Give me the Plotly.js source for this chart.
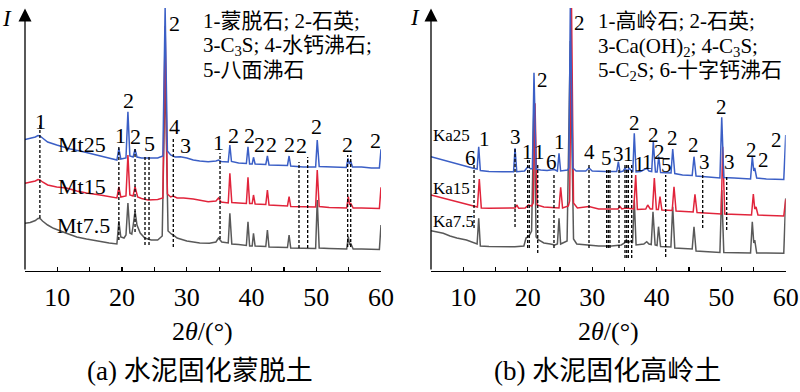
<!DOCTYPE html>
<html><head><meta charset="utf-8">
<script src="https://cdn.plot.ly/plotly-3.0.1.min.js"></script>
<style>html,body{margin:0;padding:0;background:#fff}#chart{width:800px;height:392px}</style>
</head><body><div id="chart"></div>
<script>
// ---------- Panel (a): cement-stabilised montmorillonite ----------
const mt25X = [5,5.8,6.6,7.0,7.3,7.7,8.5,9.9,12,14,16,18,19.2,19.5,19.8,20.6,20.9,21.2,21.7,22.0,22.3,23,24,25.5,26.3,26.65,27.0,27.5,28.2,29.0,30,31,32,33.3,34.5,34.9,35.3,36.4,36.65,36.9,38,39.2,39.45,39.7,40.1,40.3,40.55,42.2,42.45,42.7,45.55,45.8,46.05,48,49.9,50.15,50.45,52,54.65,54.9,55.1,55.3,55.6,57,58.5,59.75,60];
const mt25Y = [131.5,132.5,134,135.5,135,133,129,126,122,119.3,116,113,111,122.7,112,113,159.3,115,114,121.7,114,113,113,113,115,263,120,116,114,114.3,113,111,110,109.3,110,111,109.5,109,126,109.5,108,107.5,124.3,107,107,113.7,107,106.5,115,106,105.5,115,105,104,104,131,104.5,104,103.5,112.7,107,110,104,104,103,103,121.7];

const mt15X = [5,5.8,6.6,7.0,7.3,7.7,8.5,9.9,11.4,13,14.5,16.6,18,19.2,19.5,19.8,20.6,20.9,21.2,21.7,22.0,22.4,23,24,25.5,26.3,26.65,27.0,27.5,27.9,28.5,29.5,31,32,33.3,34.5,34.9,35.3,36.4,36.65,36.95,38,39.2,39.45,39.7,40.1,40.3,40.55,42.2,42.45,42.7,45.55,45.8,46.05,48,49.9,50.15,50.45,52,54.7,54.95,55.15,55.3,55.7,57,58.5,59.75,60];
const mt15Y = [87.7,88.5,90,91.5,91,89,86,84,83,80,78,76,74.5,73,84,74,75,116,76,75,84.3,74,72.5,71,71.5,73,245,77,74,75,73,73,72,71,69.3,70,73,69,68,97.7,68.5,68,67.5,93.7,67.5,67.5,76,67,66.5,81,66,65,74.3,64.5,64,64,101,64.5,63.5,63,74.3,66,68,63,63,62.5,62.5,83.7];

const mt75X = [5,5.8,6.6,7.0,7.3,7.7,8.5,9.4,11.4,13,14.5,16.6,18,19.2,19.5,19.8,20.3,20.6,20.9,21.2,21.5,21.7,22.0,22.3,22.8,23.5,24.5,25.5,26.2,26.65,27.1,27.6,27.9,28.5,30,32,33.5,34.5,34.9,35.4,36.4,36.65,36.95,38,39.2,39.45,39.7,40.1,40.3,40.55,42.2,42.45,42.7,45.55,45.8,46.05,48,49.9,50.15,50.45,52,54.7,54.95,55.15,55.3,55.7,57,58.5,59.75,60];
const mt75Y = [47.7,48.5,50.5,52.5,52.7,50,46,42.7,37.7,34,32,29.3,28,27,50,34,33,36,68,38,37,45,60,46,38,33,31,31,35,200,40,37,36,33,30,28,27.7,29,33,29,28,57.7,27,26.5,25.5,49.3,25,25,37.7,25,24.5,41,24,23.5,36,23,22.5,22.5,71,23,22.5,22,34.3,26,28,22,22,21.5,21.5,46];

const mtDashX   = [7.3,19.5,22.0,23.54,24.16,27.91,35.13,47.33,48.67,54.85,55.32];
const mtDashTop = [146,126,124,114,114,133,118,109,114,116,116];
const mtDashBot = [53,31,39,26,26,24,32,23,23,24,24];

const mtLabX = [7.32,20.96,19.78,22.1,24.16,28.02,28.02,29.83,34.97,37.18,39.76,41.2,43.11,45.94,47.64,50.06,54.85,59.22];
const mtLabY = [149.3,171,136,135,128,248,145,126,128.3,136,136,127,127,127,125.3,144.3,127,130.3];
const mtLabT = ['1','2','1','2','5','2','4','3','1','2','2','2','2','2','2','2','2','2'];

const mtSamples = ['Mt25','Mt15','Mt7.5'];
const mtSampleX = [13.76,13.76,14.0];
const mtSampleY = [127,85,46];

const mtLegend = ['1-蒙脱石; 2-石英;','3-C<sub>3</sub>S; 4-水钙沸石;','5-八面沸石'];

// ---------- Panel (b): cement-stabilised kaolinite ----------
const ka25X = [5,6.5,7.95,9,10.54,11.56,12.15,12.4,12.65,14,16,17.8,18.03,18.3,19.5,20.0,20.5,20.72,20.97,21.3,22,23,24.1,24.6,24.85,25.1,26.2,26.38,26.6,27.0,27.5,29.0,29.5,30,32,33.8,34.05,34.3,34.8,35.1,35.4,35.7,36.1,36.3,36.52,36.8,37.5,38.0,38.45,38.8,39.22,39.47,39.8,40.06,40.31,40.6,42.0,42.22,42.48,42.8,44,45.5,45.78,46.1,48,49.8,50.08,50.4,52,54.55,54.82,55.05,55.2,55.5,57,59.7,60];
const ka25Y = [114.3,111.5,109.3,107,104.3,102.7,102,124.3,100.5,99.5,99.3,99.3,122.7,99.3,100,104.3,102,102.5,198.3,102,101,100.5,101.5,100,117.7,100,101,103,263,103,100,100,103,100,99.5,99.5,109.3,99,100,103,99.5,103,100,99.5,137.7,99,99.5,101,102.7,100,99.5,129.3,99,99,114.3,98.5,98,98,122,97.5,96,95.5,114.3,95,94,93,153.7,93.5,93,92,114.3,100,103,93,92,91.5,136];

const ka15X = [5,6.5,7.95,9,10.5,11.56,12.2,12.49,12.8,14,16,18.05,18.29,18.6,19.6,20.1,20.6,20.85,21.13,21.45,22.5,24,24.85,25.11,25.4,26.3,26.5,26.79,27.1,27.7,29.5,31,34.0,34.3,34.6,35.2,35.6,36.45,36.74,37.0,38.3,38.6,39.0,39.35,39.63,39.95,40.25,40.51,40.8,42.4,42.68,43,45.65,45.93,46.25,50,50.23,50.55,54.7,54.98,55.2,55.4,55.7,57.5,59.7,60];
const ka15Y = [76,73.5,71,69,67,65,64,92,63,62.7,62.7,63,66,62.7,63,66,65,68,167.7,66,64,63,63,83.7,63,65,70,263,68,63,64.5,62,62,64.5,62,63,62.5,62,96,61.5,62,66,62,62,93,61.5,61.5,74.3,61,60.5,84.3,60,59,76.7,58.5,57,124.3,57,56,77,62,64,56,55.5,55,71.7];

const ka75X = [5,6.0,6.9,7.95,9,10.5,11.56,12.15,12.4,12.65,14,16,18,19.4,19.73,20.2,20.6,20.97,21.3,21.7,22.5,23.5,24.2,24.6,24.85,25.1,26.1,26.6,27.1,27.6,29.5,31,33,34.5,35.0,35.3,35.6,35.9,36.25,36.52,36.8,38.0,38.45,38.8,39.15,39.42,39.75,40.05,40.28,40.6,42.2,42.48,42.8,45.5,45.78,46.1,49.8,50.08,50.4,54.55,54.82,55.05,55.2,55.5,57,59.7,60];
const ka75Y = [40.3,39,37.7,35,33,31,28.3,27,52.7,25,24.5,24.3,24.3,25,33,35,40,170,34,31,28,27,26,27,52.7,27,30,230,32,27,26,25,25,26,28,31,28,30,28,71,26,27,29.3,27,26.5,59.3,26,25.5,44.3,24.5,24,64.3,23,22,44.3,20,18.5,81,18.5,18,49.3,28,31,18,18,17.7,72.7];

const kaDashX   = [11.67,18.03,19.99,20.24,21.55,24.07,29.5,32.24,32.49,32.75,34.15,35.08,35.35,35.6,36.12,41.39,47.13,50.85];
const kaDashTop = [106,124,113,113,108,98,108,101,101,101,103,108,108,108,108,96,99,96];
const kaDashBot = [43,44,23,23,18,23,23,23,23,23,23,13,13,13,13,14,43,41];

const kaLabX = [11.05,13.37,18.03,19.89,21.75,22.32,23.61,24.89,28.1,29.5,32.24,34.04,35.7,36.63,37.35,38.6,39.47,40.4,41.55,42.48,45.67,47.38,50.08,51.36,54.73,56.63,58.6];
const kaLabY = [112.7,131.7,134.3,119.3,119.3,191,109.3,129.3,247.7,119.3,112.7,117,117,147.7,107,109.3,136,119.3,106,132.7,126,109.3,164.3,109.3,121,111,131];
const kaLabT = ['6','1','3','1','1','2','6','1','2','4','5','3','1','2','1','1','2','2','5','2','2','3','2','3','2','2','2'];

const kaSamples = ['Ka25','Ka15','Ka7.5'];
const kaSampleX = [8.21,8.21,8.46];
const kaSampleY = [136,82.7,49.3];

const kaLegend = ['1-高岭石; 2-石英;','3-Ca(OH)<sub>2</sub>; 4-C<sub>3</sub>S;','5-C<sub>2</sub>S; 6-十字钙沸石'];

const tickVals = [5,10,15,20,25,30,35,40,45,50,55,60];
const tickText = ['','10','','20','','30','','40','','50','','60'];
const xTitle = '2<i>θ</i>/(°)';
const captions = ['(a) 水泥固化蒙脱土','(b) 水泥固化高岭土'];

// ---------- drawing ----------
const SERIF = '"Liberation Serif", "Times New Roman", "Noto Sans CJK SC", serif';
const BLUE = '#3b5fc6', RED = '#e1243b', GREY = '#595959';
const W = 800, H = 392;
const px = v => v / W, py = v => 1 - v / H;

function curve(x, y, color, xa, ya) {
  return {x: x, y: y, type: 'scatter', mode: 'lines', line: {color: color, width: 1.5},
          xaxis: xa, yaxis: ya, hoverinfo: 'skip', showlegend: false};
}
const data = [
  curve(mt75X, mt75Y, GREY, 'x', 'y'),
  curve(mt15X, mt15Y, RED, 'x', 'y'),
  curve(mt25X, mt25Y, BLUE, 'x', 'y'),
  curve(ka75X, ka75Y, GREY, 'x2', 'y2'),
  curve(ka15X, ka15Y, RED, 'x2', 'y2'),
  curve(ka25X, ka25Y, BLUE, 'x2', 'y2')
];

const shapes = [];
function dashes(xs, tops, bots, xr, yr) {
  xs.forEach((d, i) => shapes.push({type: 'line', xref: xr, yref: yr, x0: d, x1: d, y0: bots[i], y1: tops[i],
    line: {color: '#000', width: 1.3, dash: '3px,2px'}}));
}
dashes(mtDashX, mtDashTop, mtDashBot, 'x', 'y');
dashes(kaDashX, kaDashTop, kaDashBot, 'x2', 'y2');

const ann = [];
function labels(xs, ys, ts, xr, yr, size) {
  xs.forEach((v, i) => ann.push({x: v, y: ys[i], xref: xr, yref: yr, text: ts[i], showarrow: false,
    xanchor: 'center', yanchor: 'middle', font: {family: SERIF, size: size, color: '#000'}}));
}
labels(mtLabX, mtLabY, mtLabT, 'x', 'y', 22);
labels(kaLabX, kaLabY, kaLabT, 'x2', 'y2', 21);
labels(mtSampleX, mtSampleY, mtSamples, 'x', 'y', 22);
labels(kaSampleX, kaSampleY, kaSamples, 'x2', 'y2', 17);

// y axes drawn as arrows
[['x', 'y'], ['x2', 'y2']].forEach(([xr, yr]) => ann.push({x: 5, y: 262.5, ax: 5, ay: 0, xref: xr, yref: yr,
  axref: xr, ayref: yr, text: '', showarrow: true, arrowhead: 2, arrowsize: 2, arrowwidth: 1.3,
  arrowcolor: '#000', standoff: 0, startstandoff: 0}));

function paperText(t, x, y, size, anchor) {
  ann.push({x: px(x), y: py(y), xref: 'paper', yref: 'paper', text: t, showarrow: false,
    xanchor: anchor || 'center', yanchor: 'middle', font: {family: SERIF, size: size, color: '#000'}});
}
paperText('<i>I</i>', 7, 18, 23);
paperText('<i>I</i>', 415, 17, 23);
mtLegend.forEach((t, i) => paperText(t, 201, [21, 46, 70][i], 21, 'left'));
kaLegend.forEach((t, i) => paperText(t, 596, [21, 47, 71][i], 21, 'left'));
paperText(xTitle, 202, 331, 26);
paperText(xTitle, 608, 331, 26);
paperText(captions[0], 200, 371, 27);
paperText(captions[1], 607, 371, 27);

const xBase = {range: [5, 60], showgrid: false, zeroline: false, showline: true, linecolor: '#000', linewidth: 1.3,
  ticks: 'inside', ticklen: 4, tickwidth: 1.2, tickcolor: '#000', tickmode: 'array', tickvals: tickVals, ticktext: tickText,
  tickfont: {family: SERIF, size: 26, color: '#000'}, ticklabelstandoff: 2, fixedrange: true};
const yBase = {range: [0, 271], domain: [1 - 271 / H, 1], visible: false, fixedrange: true};

const layout = {
  width: W, height: H, margin: {l: 0, r: 0, t: 0, b: 0},
  paper_bgcolor: '#fff', plot_bgcolor: 'rgba(0,0,0,0)', showlegend: false,
  xaxis: Object.assign({}, xBase, {domain: [25 / W, 381 / W], anchor: 'y'}),
  yaxis: Object.assign({}, yBase, {anchor: 'x'}),
  xaxis2: Object.assign({}, xBase, {domain: [431 / W, 785.7 / W], anchor: 'y2'}),
  yaxis2: Object.assign({}, yBase, {anchor: 'x2'}),
  shapes: shapes, annotations: ann
};
Plotly.newPlot('chart', data, layout, {staticPlot: true, displayModeBar: false});
</script></body></html>
